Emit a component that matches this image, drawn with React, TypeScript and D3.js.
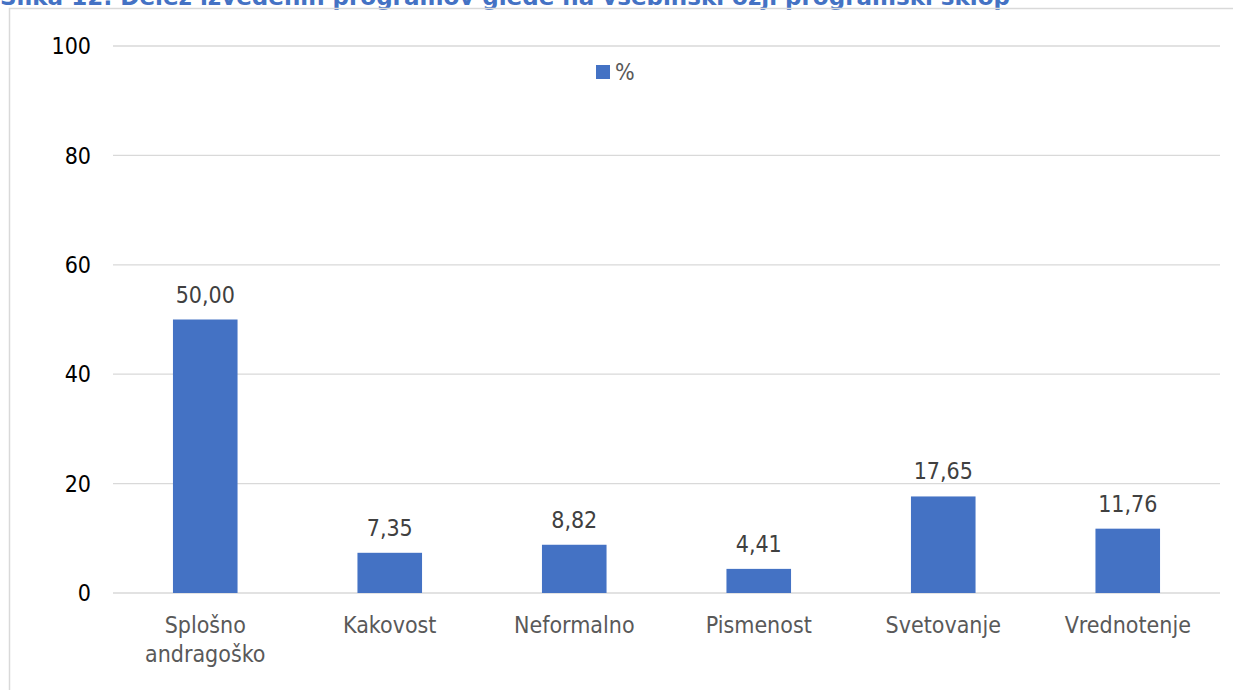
import React from "react";
import * as d3 from "d3";

const categories: string[][] = [
  ["Splošno", "andragoško"],
  ["Kakovost"],
  ["Neformalno"],
  ["Pismenost"],
  ["Svetovanje"],
  ["Vrednotenje"],
];
const values: number[] = [50.0, 7.35, 8.82, 4.41, 17.65, 11.76];
const yTicks: number[] = [0, 20, 40, 60, 80, 100];
const seriesName = "%";
const title = "Slika 12: Delež izvedenih programov glede na vsebinski ožji programski sklop";

const W = 1233;
const H = 690;
const FONT = "'DejaVu Sans Condensed', 'DejaVu Sans', Verdana, sans-serif";
const FS = 23;

export default function App() {
  const x = d3
    .scaleBand<number>()
    .domain(values.map((_, i) => i))
    .range([113, 1220])
    .paddingInner(0.65)
    .paddingOuter(0.325);
  const y = d3.scaleLinear().domain([0, 100]).range([593, 46]);
  const fmt = (v: number) => v.toFixed(2).replace(".", ",");
  return (
    <svg
      width={W}
      height={H}
      style={{ position: "absolute", left: 0, top: 0, background: "#fff" }}
    >
      <rect x={0} y={0} width={W} height={H} fill="#fff" />
      <text
        x={0}
        y={5}
        fontFamily={FONT}
        fontWeight="bold"
        fontSize={FS}
        fill="#4472C4"
        textLength={1010}
        lengthAdjust="spacingAndGlyphs"
      >
        {title}
      </text>
      <rect x={9.5} y={8.5} width={W + 10} height={H} fill="none" stroke="#D9D9D9" strokeWidth={1.5} />
      {yTicks.map((t) => (
        <g key={t}>
          <line x1={113} x2={1220} y1={y(t)} y2={y(t)} stroke="#D9D9D9" strokeWidth={1.3} />
          <text
            x={91}
            y={y(t)}
            dy="0.36em"
            textAnchor="end"
            fontFamily={FONT}
            fontSize={FS}
            fill="#000"
          >
            {t}
          </text>
        </g>
      ))}
      {values.map((v, i) => (
        <g key={i}>
          <rect
            x={x(i)}
            y={y(v)}
            width={x.bandwidth()}
            height={y(0) - y(v)}
            fill="#4472C4"
          />
          <text
            x={(x(i) as number) + x.bandwidth() / 2}
            y={y(v) - 17}
            textAnchor="middle"
            fontFamily={FONT}
            fontSize={FS}
            fill="#404040"
          >
            {fmt(v)}
          </text>
          {categories[i].map((line, j) => (
            <text
              key={j}
              x={(x(i) as number) + x.bandwidth() / 2}
              y={633 + j * 29}
              textAnchor="middle"
              fontFamily={FONT}
              fontSize={FS}
              fill="#595959"
            >
              {line}
            </text>
          ))}
        </g>
      ))}
      <rect x={596} y={65} width={14} height={14} fill="#4472C4" />
      <text x={615} y={72} dy="0.36em" fontFamily={FONT} fontSize={FS} fill="#595959">
        {seriesName}
      </text>
    </svg>
  );
}
